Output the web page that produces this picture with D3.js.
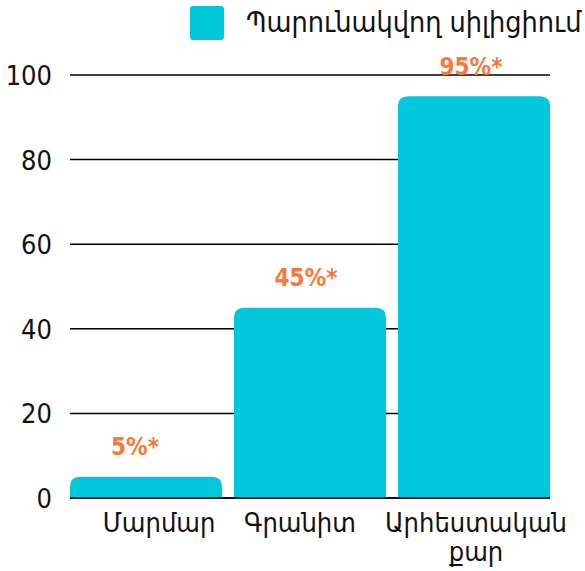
<!DOCTYPE html>
<html><head><meta charset="utf-8">
<script src="https://cdn.jsdelivr.net/npm/d3@7"></script>
<style>body{margin:0;background:#fff}svg{display:block}</style>
</head><body>
<script>
const categories = [["Մարմար"], ["Գրանիտ"], ["Արհեստական", "քար"]];
const values = [5, 45, 95];
const valueLabels = ["5%*", "45%*", "95%*"];
const yTicks = [0, 20, 40, 60, 80, 100];
const seriesName = "Պարունակվող սիլիցիում";

const W = 585, H = 571;
const svg = d3.select("body").append("svg").attr("width", W).attr("height", H);
const x = d3.scaleBand().domain(d3.range(values.length)).range([70, 550]).paddingInner(0.073).paddingOuter(0);
const y = d3.scaleLinear().domain([0, 100]).range([498, 75]);
const font = "DejaVu Sans Condensed, DejaVu Sans";
const teal = "#00C8DA";
const labelShift = [13, -10, 2];
const valueShift = [-11, -4, -3];

// gridlines
svg.append("g").selectAll("line").data(yTicks).join("line")
  .attr("x1", 70).attr("x2", 550)
  .attr("y1", d => y(d)).attr("y2", d => y(d))
  .attr("stroke", "#000").attr("stroke-width", 1.5);
svg.append("g").selectAll("text").data(yTicks).join("text")
  .attr("x", 52).attr("y", d => y(d) + 10)
  .attr("text-anchor", "end").attr("font-family", font).attr("font-size", 27)
  .attr("fill", "#111").text(d => d);

// bars with rounded top corners
const r = 10;
svg.append("g").selectAll("path").data(values).join("path")
  .attr("fill", teal)
  .attr("d", (d, i) => {
    const x0 = x(i), x1 = x(i) + x.bandwidth(), y0 = y(0), y1 = y(d);
    return `M${x0},${y0}L${x0},${y1 + r}Q${x0},${y1} ${x0 + r},${y1}L${x1 - r},${y1}Q${x1},${y1} ${x1},${y1 + r}L${x1},${y0}Z`;
  });

// baseline on top
svg.append("line").attr("x1", 70).attr("x2", 550).attr("y1", y(0)).attr("y2", y(0))
  .attr("stroke", "#000").attr("stroke-width", 1.5);

// value labels
svg.append("g").selectAll("text").data(values).join("text")
  .attr("x", (d, i) => x(i) + x.bandwidth() / 2 + valueShift[i])
  .attr("y", d => y(d) - 21.5)
  .attr("text-anchor", "middle").attr("font-family", font)
  .attr("font-weight", "bold").attr("font-size", 24).attr("fill", "#F47B3B")
  .text((d, i) => valueLabels[i]);

// category labels
const cg = svg.append("g");
categories.forEach((lines, i) => {
  const t = cg.append("text").attr("text-anchor", "middle").attr("font-family", font)
    .attr("font-size", 27).attr("fill", "#111");
  lines.forEach((ln, j) => {
    t.append("tspan").attr("x", x(i) + x.bandwidth() / 2 + labelShift[i]).attr("y", 532 + j * 29).text(ln);
  });
});

// legend
svg.append("rect").attr("x", 190).attr("y", 6).attr("width", 34).attr("height", 34).attr("rx", 3).attr("fill", teal);
svg.append("text").attr("x", 246).attr("y", 32).attr("font-family", font).attr("font-size", 28.5)
  .attr("fill", "#111").text(seriesName);
</script>
</body></html>
